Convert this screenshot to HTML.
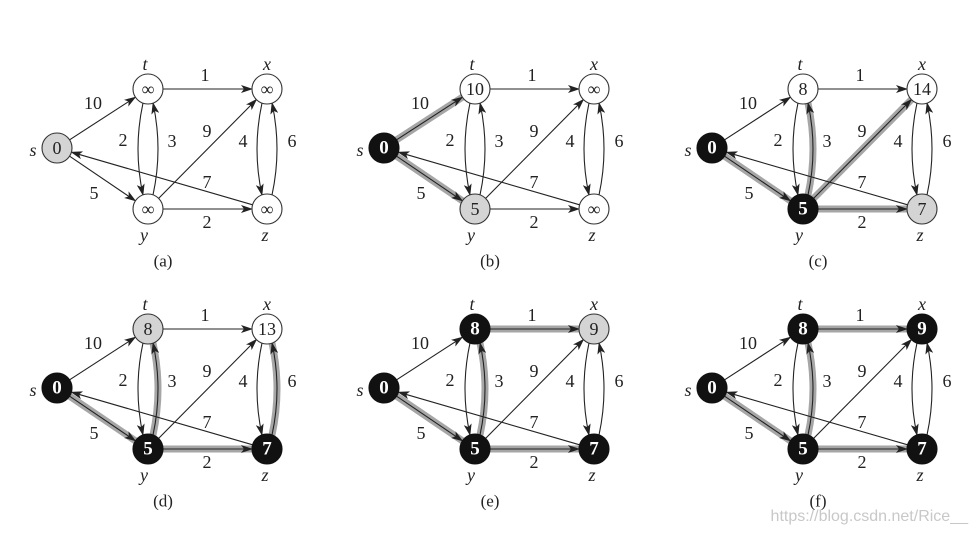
<!DOCTYPE html>
<html><head><meta charset="utf-8"><style>
html,body{margin:0;padding:0;background:#fff;}
svg{display:block;}
text{font-family:"Liberation Serif",serif;fill:#222;}
.w{font-size:18px;text-anchor:middle;dominant-baseline:central;}
.n{font-size:18px;font-style:italic;text-anchor:middle;dominant-baseline:central;}
.v{font-size:18px;text-anchor:middle;dominant-baseline:central;}
.vb{font-size:19px;font-weight:bold;text-anchor:middle;dominant-baseline:central;fill:#fff;}
.cap{font-size:17px;text-anchor:middle;dominant-baseline:central;}
.e{fill:none;stroke:#222;stroke-width:1.1;marker-end:url(#ah);}
.h{fill:none;stroke:#a6a6a6;stroke-width:7;}
.cw{fill:#fff;stroke:#333;stroke-width:1.1;}
.cg{fill:#d4d4d4;stroke:#333;stroke-width:1.1;}
.cb{fill:#111;stroke:#111;stroke-width:1.1;}
</style></head><body>
<svg width="976" height="537" viewBox="0 0 976 537" xmlns="http://www.w3.org/2000/svg">
<defs><marker id="ah" markerWidth="12" markerHeight="8" refX="11" refY="4" orient="auto" markerUnits="userSpaceOnUse"><path d="M0,0 L12,4 L0,8 L3,4 z" fill="#222"/></marker></defs>

<!-- (a) -->
<g transform="translate(57,148)">
<path class="e" d="M12.6,-8.2 L78.4,-50.8"/>
<path class="e" d="M106,-59 L195,-59"/>
<path class="e" d="M12.6,8.2 L78.4,52.8"/>
<path class="e" d="M86,-45 Q76,1 86,47"/>
<path class="e" d="M96,47 Q106,1 96,-45"/>
<path class="e" d="M101.5,50.5 L199.5,-48.5"/>
<path class="e" d="M106,61 L195,61"/>
<path class="e" d="M195.6,56.8 L14.4,4.2"/>
<path class="e" d="M205,-45 Q195,1 205,47"/>
<path class="e" d="M215,47 Q225,1 215,-45"/>
<circle class="cg" cx="0" cy="0" r="15"/><text class="v" x="0" y="0">0</text>
<circle class="cw" cx="91" cy="-59" r="15"/><text class="v" x="91" y="-59">∞</text>
<circle class="cw" cx="210" cy="-59" r="15"/><text class="v" x="210" y="-59">∞</text>
<circle class="cw" cx="91" cy="61" r="15"/><text class="v" x="91" y="61">∞</text>
<circle class="cw" cx="210" cy="61" r="15"/><text class="v" x="210" y="61">∞</text>
<text class="n" x="-24" y="2">s</text><text class="n" x="88" y="-84">t</text><text class="n" x="210" y="-84">x</text><text class="n" x="87" y="87">y</text><text class="n" x="208" y="87">z</text>
<text class="w" x="36" y="-45">10</text><text class="w" x="148" y="-73">1</text><text class="w" x="66" y="-8">2</text><text class="w" x="115" y="-7">3</text><text class="w" x="150" y="-17">9</text><text class="w" x="186" y="-7">4</text><text class="w" x="235" y="-7">6</text><text class="w" x="150" y="34">7</text><text class="w" x="37" y="45">5</text><text class="w" x="150" y="74">2</text>
<text class="cap" x="106" y="113">(a)</text>
</g>

<!-- (b) -->
<g transform="translate(384,148)">
<path class="h" d="M12.6,-8.2 L78.4,-50.8"/>
<path class="h" d="M12.6,8.2 L78.4,52.8"/>
<path class="e" d="M12.6,-8.2 L78.4,-50.8"/>
<path class="e" d="M106,-59 L195,-59"/>
<path class="e" d="M12.6,8.2 L78.4,52.8"/>
<path class="e" d="M86,-45 Q76,1 86,47"/>
<path class="e" d="M96,47 Q106,1 96,-45"/>
<path class="e" d="M101.5,50.5 L199.5,-48.5"/>
<path class="e" d="M106,61 L195,61"/>
<path class="e" d="M195.6,56.8 L14.4,4.2"/>
<path class="e" d="M205,-45 Q195,1 205,47"/>
<path class="e" d="M215,47 Q225,1 215,-45"/>
<circle class="cb" cx="0" cy="0" r="15"/><text class="vb" x="0" y="0">0</text>
<circle class="cw" cx="91" cy="-59" r="15"/><text class="v" x="91" y="-59">10</text>
<circle class="cw" cx="210" cy="-59" r="15"/><text class="v" x="210" y="-59">∞</text>
<circle class="cg" cx="91" cy="61" r="15"/><text class="v" x="91" y="61">5</text>
<circle class="cw" cx="210" cy="61" r="15"/><text class="v" x="210" y="61">∞</text>
<text class="n" x="-24" y="2">s</text><text class="n" x="88" y="-84">t</text><text class="n" x="210" y="-84">x</text><text class="n" x="87" y="87">y</text><text class="n" x="208" y="87">z</text>
<text class="w" x="36" y="-45">10</text><text class="w" x="148" y="-73">1</text><text class="w" x="66" y="-8">2</text><text class="w" x="115" y="-7">3</text><text class="w" x="150" y="-17">9</text><text class="w" x="186" y="-7">4</text><text class="w" x="235" y="-7">6</text><text class="w" x="150" y="34">7</text><text class="w" x="37" y="45">5</text><text class="w" x="150" y="74">2</text>
<text class="cap" x="106" y="113">(b)</text>
</g>

<!-- (c) -->
<g transform="translate(712,148)">
<path class="h" d="M12.6,8.2 L78.4,52.8"/>
<path class="h" d="M96,47 Q106,1 96,-45"/>
<path class="h" d="M101.5,50.5 L199.5,-48.5"/>
<path class="h" d="M106,61 L195,61"/>
<path class="e" d="M12.6,-8.2 L78.4,-50.8"/>
<path class="e" d="M106,-59 L195,-59"/>
<path class="e" d="M12.6,8.2 L78.4,52.8"/>
<path class="e" d="M86,-45 Q76,1 86,47"/>
<path class="e" d="M96,47 Q106,1 96,-45"/>
<path class="e" d="M101.5,50.5 L199.5,-48.5"/>
<path class="e" d="M106,61 L195,61"/>
<path class="e" d="M195.6,56.8 L14.4,4.2"/>
<path class="e" d="M205,-45 Q195,1 205,47"/>
<path class="e" d="M215,47 Q225,1 215,-45"/>
<circle class="cb" cx="0" cy="0" r="15"/><text class="vb" x="0" y="0">0</text>
<circle class="cw" cx="91" cy="-59" r="15"/><text class="v" x="91" y="-59">8</text>
<circle class="cw" cx="210" cy="-59" r="15"/><text class="v" x="210" y="-59">14</text>
<circle class="cb" cx="91" cy="61" r="15"/><text class="vb" x="91" y="61">5</text>
<circle class="cg" cx="210" cy="61" r="15"/><text class="v" x="210" y="61">7</text>
<text class="n" x="-24" y="2">s</text><text class="n" x="88" y="-84">t</text><text class="n" x="210" y="-84">x</text><text class="n" x="87" y="87">y</text><text class="n" x="208" y="87">z</text>
<text class="w" x="36" y="-45">10</text><text class="w" x="148" y="-73">1</text><text class="w" x="66" y="-8">2</text><text class="w" x="115" y="-7">3</text><text class="w" x="150" y="-17">9</text><text class="w" x="186" y="-7">4</text><text class="w" x="235" y="-7">6</text><text class="w" x="150" y="34">7</text><text class="w" x="37" y="45">5</text><text class="w" x="150" y="74">2</text>
<text class="cap" x="106" y="113">(c)</text>
</g>

<!-- (d) -->
<g transform="translate(57,388)">
<path class="h" d="M12.6,8.2 L78.4,52.8"/>
<path class="h" d="M96,47 Q106,1 96,-45"/>
<path class="h" d="M106,61 L195,61"/>
<path class="h" d="M215,47 Q225,1 215,-45"/>
<path class="e" d="M12.6,-8.2 L78.4,-50.8"/>
<path class="e" d="M106,-59 L195,-59"/>
<path class="e" d="M12.6,8.2 L78.4,52.8"/>
<path class="e" d="M86,-45 Q76,1 86,47"/>
<path class="e" d="M96,47 Q106,1 96,-45"/>
<path class="e" d="M101.5,50.5 L199.5,-48.5"/>
<path class="e" d="M106,61 L195,61"/>
<path class="e" d="M195.6,56.8 L14.4,4.2"/>
<path class="e" d="M205,-45 Q195,1 205,47"/>
<path class="e" d="M215,47 Q225,1 215,-45"/>
<circle class="cb" cx="0" cy="0" r="15"/><text class="vb" x="0" y="0">0</text>
<circle class="cg" cx="91" cy="-59" r="15"/><text class="v" x="91" y="-59">8</text>
<circle class="cw" cx="210" cy="-59" r="15"/><text class="v" x="210" y="-59">13</text>
<circle class="cb" cx="91" cy="61" r="15"/><text class="vb" x="91" y="61">5</text>
<circle class="cb" cx="210" cy="61" r="15"/><text class="vb" x="210" y="61">7</text>
<text class="n" x="-24" y="2">s</text><text class="n" x="88" y="-84">t</text><text class="n" x="210" y="-84">x</text><text class="n" x="87" y="87">y</text><text class="n" x="208" y="87">z</text>
<text class="w" x="36" y="-45">10</text><text class="w" x="148" y="-73">1</text><text class="w" x="66" y="-8">2</text><text class="w" x="115" y="-7">3</text><text class="w" x="150" y="-17">9</text><text class="w" x="186" y="-7">4</text><text class="w" x="235" y="-7">6</text><text class="w" x="150" y="34">7</text><text class="w" x="37" y="45">5</text><text class="w" x="150" y="74">2</text>
<text class="cap" x="106" y="113">(d)</text>
</g>

<!-- (e) -->
<g transform="translate(384,388)">
<path class="h" d="M12.6,8.2 L78.4,52.8"/>
<path class="h" d="M96,47 Q106,1 96,-45"/>
<path class="h" d="M106,61 L195,61"/>
<path class="h" d="M106,-59 L195,-59"/>
<path class="e" d="M12.6,-8.2 L78.4,-50.8"/>
<path class="e" d="M106,-59 L195,-59"/>
<path class="e" d="M12.6,8.2 L78.4,52.8"/>
<path class="e" d="M86,-45 Q76,1 86,47"/>
<path class="e" d="M96,47 Q106,1 96,-45"/>
<path class="e" d="M101.5,50.5 L199.5,-48.5"/>
<path class="e" d="M106,61 L195,61"/>
<path class="e" d="M195.6,56.8 L14.4,4.2"/>
<path class="e" d="M205,-45 Q195,1 205,47"/>
<path class="e" d="M215,47 Q225,1 215,-45"/>
<circle class="cb" cx="0" cy="0" r="15"/><text class="vb" x="0" y="0">0</text>
<circle class="cb" cx="91" cy="-59" r="15"/><text class="vb" x="91" y="-59">8</text>
<circle class="cg" cx="210" cy="-59" r="15"/><text class="v" x="210" y="-59">9</text>
<circle class="cb" cx="91" cy="61" r="15"/><text class="vb" x="91" y="61">5</text>
<circle class="cb" cx="210" cy="61" r="15"/><text class="vb" x="210" y="61">7</text>
<text class="n" x="-24" y="2">s</text><text class="n" x="88" y="-84">t</text><text class="n" x="210" y="-84">x</text><text class="n" x="87" y="87">y</text><text class="n" x="208" y="87">z</text>
<text class="w" x="36" y="-45">10</text><text class="w" x="148" y="-73">1</text><text class="w" x="66" y="-8">2</text><text class="w" x="115" y="-7">3</text><text class="w" x="150" y="-17">9</text><text class="w" x="186" y="-7">4</text><text class="w" x="235" y="-7">6</text><text class="w" x="150" y="34">7</text><text class="w" x="37" y="45">5</text><text class="w" x="150" y="74">2</text>
<text class="cap" x="106" y="113">(e)</text>
</g>

<!-- (f) -->
<g transform="translate(712,388)">
<path class="h" d="M12.6,8.2 L78.4,52.8"/>
<path class="h" d="M96,47 Q106,1 96,-45"/>
<path class="h" d="M106,61 L195,61"/>
<path class="h" d="M106,-59 L195,-59"/>
<path class="e" d="M12.6,-8.2 L78.4,-50.8"/>
<path class="e" d="M106,-59 L195,-59"/>
<path class="e" d="M12.6,8.2 L78.4,52.8"/>
<path class="e" d="M86,-45 Q76,1 86,47"/>
<path class="e" d="M96,47 Q106,1 96,-45"/>
<path class="e" d="M101.5,50.5 L199.5,-48.5"/>
<path class="e" d="M106,61 L195,61"/>
<path class="e" d="M195.6,56.8 L14.4,4.2"/>
<path class="e" d="M205,-45 Q195,1 205,47"/>
<path class="e" d="M215,47 Q225,1 215,-45"/>
<circle class="cb" cx="0" cy="0" r="15"/><text class="vb" x="0" y="0">0</text>
<circle class="cb" cx="91" cy="-59" r="15"/><text class="vb" x="91" y="-59">8</text>
<circle class="cb" cx="210" cy="-59" r="15"/><text class="vb" x="210" y="-59">9</text>
<circle class="cb" cx="91" cy="61" r="15"/><text class="vb" x="91" y="61">5</text>
<circle class="cb" cx="210" cy="61" r="15"/><text class="vb" x="210" y="61">7</text>
<text class="n" x="-24" y="2">s</text><text class="n" x="88" y="-84">t</text><text class="n" x="210" y="-84">x</text><text class="n" x="87" y="87">y</text><text class="n" x="208" y="87">z</text>
<text class="w" x="36" y="-45">10</text><text class="w" x="148" y="-73">1</text><text class="w" x="66" y="-8">2</text><text class="w" x="115" y="-7">3</text><text class="w" x="150" y="-17">9</text><text class="w" x="186" y="-7">4</text><text class="w" x="235" y="-7">6</text><text class="w" x="150" y="34">7</text><text class="w" x="37" y="45">5</text><text class="w" x="150" y="74">2</text>
<text class="cap" x="106" y="113">(f)</text>
</g>

<text x="968" y="521" style="font-family:'Liberation Sans',sans-serif;font-size:16px;fill:#c8c8c8;text-anchor:end;">https://blog.csdn.net/Rice__</text>
</svg>
</body></html>
